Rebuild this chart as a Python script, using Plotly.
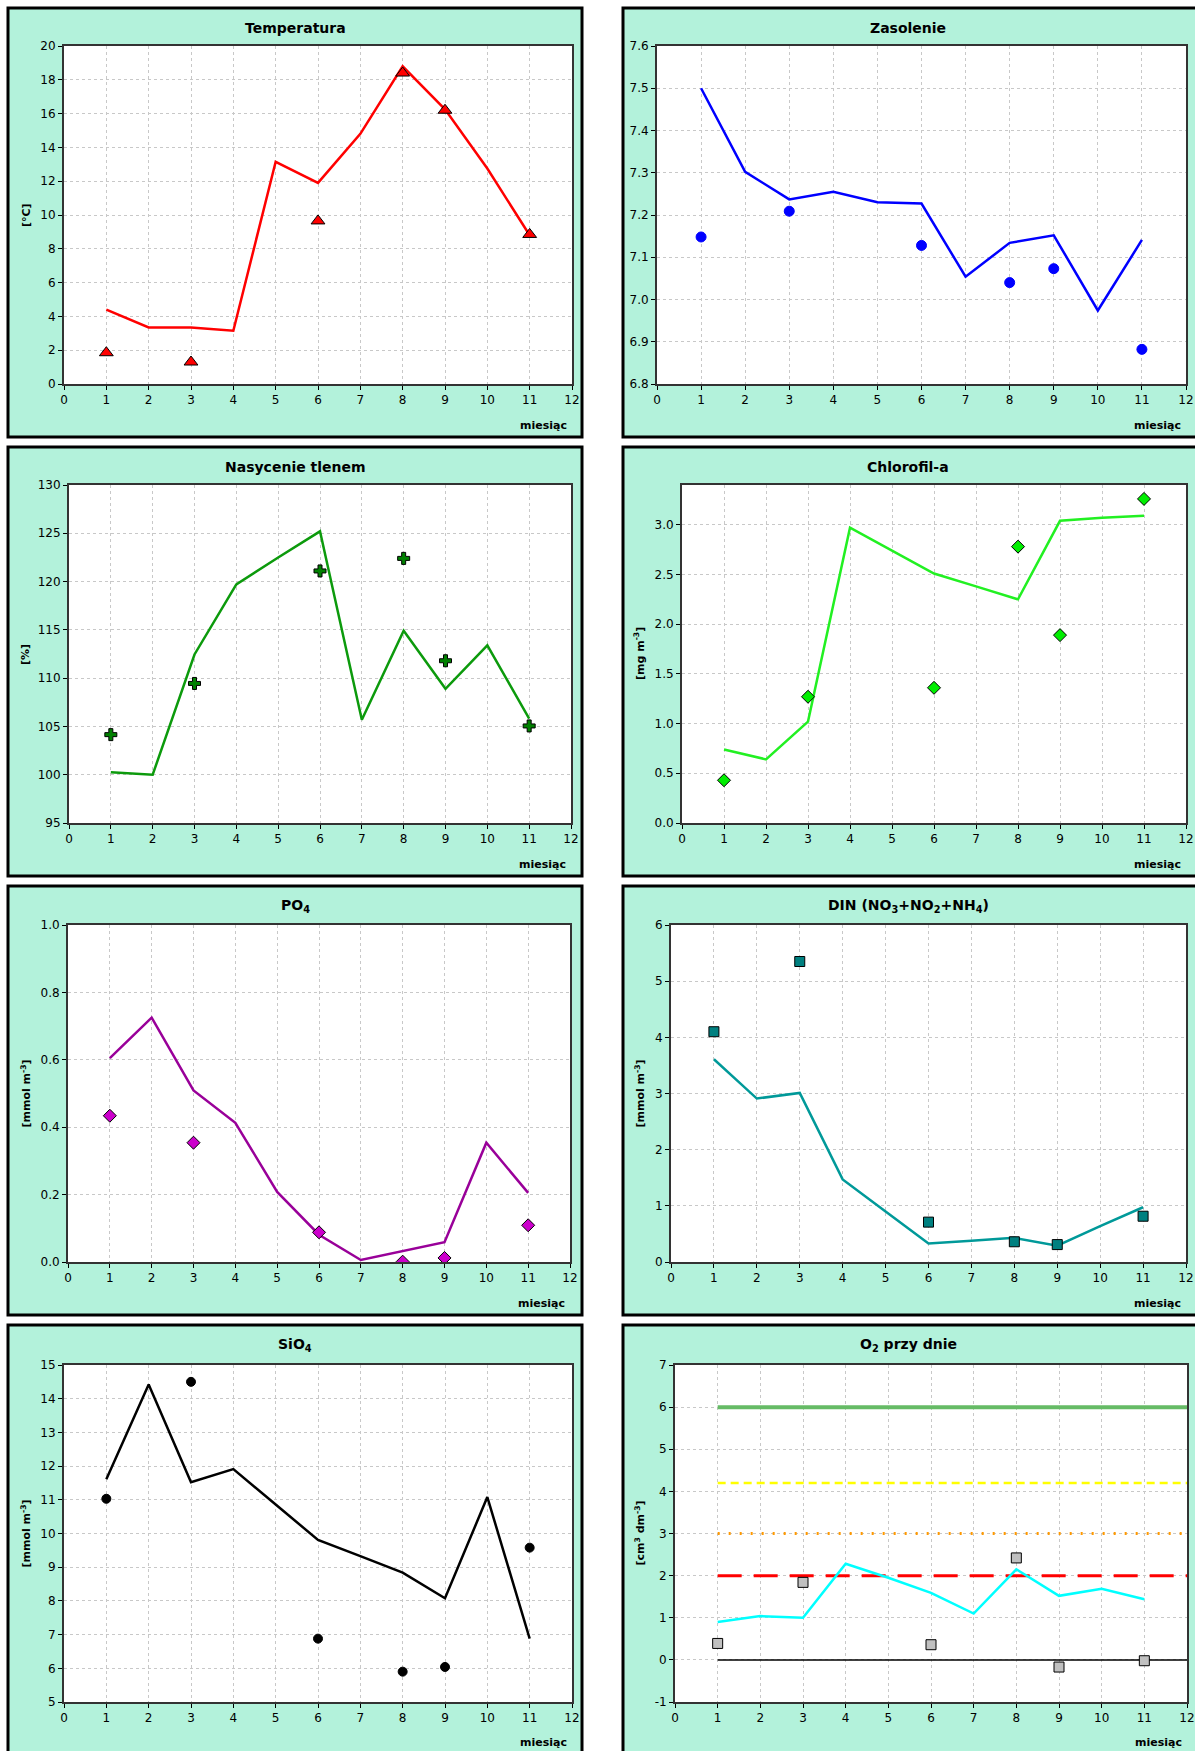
import plotly.graph_objects as go

W, H = 1195, 1751

# ---------------- data ----------------
months = [1, 2, 3, 4, 5, 6, 7, 8, 9, 10, 11]
meas_months = [1, 3, 6, 8, 9, 11]

temp_line = [4.4, 3.35, 3.35, 3.15, 13.15, 11.9, 14.8, 18.8, 16.25, 12.75, 8.8]
temp_pts = [1.85, 1.3, 9.65, 18.4, 16.2, 8.85]

sal_line = [7.50, 7.302, 7.237, 7.255, 7.230, 7.227, 7.054, 7.134, 7.152, 6.974, 7.141]
sal_pts = [7.148, 7.209, 7.128, 7.040, 7.073, 6.882]

oxsat_line = [100.25, 100.0, 112.45, 119.7, 122.5, 125.2, 105.7, 114.9, 108.9, 113.4, 105.8]
oxsat_pts = [104.15, 109.45, 121.1, 122.4, 111.8, 105.05]

chl_line = [0.74, 0.64, 1.02, 2.97, 2.74, 2.51, 2.38, 2.25, 3.04, 3.07, 3.09]
chl_pts = [0.43, 1.27, 1.36, 2.78, 1.89, 3.26]

po4_line = [0.605, 0.725, 0.509, 0.413, 0.208, 0.081, 0.006, 0.032, 0.059, 0.354, 0.205]
po4_pts = [0.434, 0.354, 0.088, 0.001, 0.012, 0.109]

din_line = [3.61, 2.91, 3.01, 1.47, 0.90, 0.33, 0.38, 0.43, 0.29, 0.64, 0.975]
din_pts = [4.10, 5.35, 0.71, 0.36, 0.31, 0.815]

sio4_line = [11.61, 14.42, 11.52, 11.91, 10.86, 9.81, 9.33, 8.84, 8.08, 11.08, 6.88]
sio4_pts = [11.03, 14.5, 6.88, 5.9, 6.04, 9.58]

o2_line = [0.9, 1.04, 1.0, 2.28, 1.95, 1.59, 1.10, 2.15, 1.52, 1.69, 1.44]
o2_pts = [0.39, 1.84, 0.36, 2.42, -0.17, -0.02]

ref_x = [1, 12]
ref_green = [6, 6]
ref_yellow = [4.2, 4.2]
ref_orange = [3, 3]
ref_red = [2, 2]
ref_black = [0, 0]

o2_tickvals = [-1, 0, 1, 2, 3, 4, 5, 6, 7]
o2_ticktext = ["-1", "0", "1", "2", "3", "4", "5", "6", "7"]

titles = ["Temperatura", "Zasolenie", "Nasycenie tlenem", "Chlorofil-a",
          "PO<sub>4</sub>", "DIN (NO<sub>3</sub>+NO<sub>2</sub>+NH<sub>4</sub>)",
          "SiO<sub>4</sub>", "O<sub>2</sub> przy dnie"]
ylabels = ["[°C]", "", "[%]", "[mg m<sup>-3</sup>]", "[mmol m<sup>-3</sup>]",
           "[mmol m<sup>-3</sup>]", "[mmol m<sup>-3</sup>]", "[cm<sup>3</sup> dm<sup>-3</sup>]"]
xlabel = "miesiąc"

# ---------------- layout geometry (pixels) ----------------
boxes = [
    (64, 46, 572, 384), (657, 46, 1186, 384),
    (69, 485, 571, 823), (682, 485, 1186, 823),
    (68, 925, 570, 1262), (671, 925, 1186, 1262),
    (64, 1365, 572, 1702), (675, 1365, 1187, 1702),
]
panel_rows = [(8, 437), (447, 876), (886, 1315), (1325, 1765)]
panel_cols = [(8, 582), (623, 1210)]

specs = [
    dict(line=temp_line, pts=temp_pts, lc="#FF0000", sym="triangle-up", mc="#FF0000", mlc="#000000", ms=12,
         yr=[0, 20], dt=2, fmt="d"),
    dict(line=sal_line, pts=sal_pts, lc="#0000FF", sym="circle", mc="#0000FF", mlc="#0000FF", ms=10,
         yr=[6.8, 7.6], dt=0.1, fmt=".1f"),
    dict(line=oxsat_line, pts=oxsat_pts, lc="#0C9A0C", sym="cross", mc="#008000", mlc="#000000", ms=10,
         yr=[95, 130], dt=5, fmt="d"),
    dict(line=chl_line, pts=chl_pts, lc="#22F022", sym="diamond", mc="#00EE00", mlc="#000000", ms=10,
         yr=[0, 3.4], dt=0.5, fmt=".1f"),
    dict(line=po4_line, pts=po4_pts, lc="#990099", sym="diamond", mc="#CC00CC", mlc="#000000", ms=10,
         yr=[0, 1.0], dt=0.2, fmt=".1f"),
    dict(line=din_line, pts=din_pts, lc="#009999", sym="square", mc="#008080", mlc="#000000", ms=10,
         yr=[0, 6], dt=1, fmt="d"),
    dict(line=sio4_line, pts=sio4_pts, lc="#000000", sym="circle", mc="#000000", mlc="#000000", ms=9,
         yr=[5, 15], dt=1, fmt="d"),
    dict(line=o2_line, pts=o2_pts, lc="#00FFFF", sym="square", mc="#C0C0C0", mlc="#000000", ms=10,
         yr=[-1, 7], dt=1, fmt="d"),
]

FONT = "DejaVu Sans"
fig = go.Figure()
shapes = []
annotations = []


def px_x(v):
    return v / W


def px_y(v):
    return 1 - v / H


for (t, b) in panel_rows:
    for (l, r) in panel_cols:
        shapes.append(dict(type="rect", xref="paper", yref="paper", x0=px_x(l), x1=px_x(r),
                           y0=px_y(b), y1=px_y(t), line=dict(color="black", width=3),
                           fillcolor="#B3F2DB", layer="below"))
for (l, t, r, b) in boxes:
    shapes.append(dict(type="rect", xref="paper", yref="paper", x0=px_x(l), x1=px_x(r),
                       y0=px_y(b), y1=px_y(t), line=dict(width=0),
                       fillcolor="white", layer="below"))

axis_common = dict(showline=True, linecolor="#333333", linewidth=2, mirror=True,
                   ticks="outside", ticklen=4, tickcolor="black", tickwidth=1,
                   showgrid=True, gridcolor="#C8C8C8", griddash="dot", gridwidth=1,
                   zeroline=False, automargin=False,
                   tickfont=dict(family=FONT, size=12, color="black"))

for i, (sp, box) in enumerate(zip(specs, boxes), start=1):
    l, t, r, b = box
    xname = "xaxis" if i == 1 else f"xaxis{i}"
    yname = "yaxis" if i == 1 else f"yaxis{i}"
    xref = "x" if i == 1 else f"x{i}"
    yref = "y" if i == 1 else f"y{i}"
    yax = dict(domain=[px_y(b), px_y(t)], anchor=xref, range=sp["yr"], dtick=sp["dt"],
               tick0=sp["yr"][0] if i != 4 else 0, tickformat=sp["fmt"], **axis_common)
    if i == 8:
        yax.update(tickmode="array", tickvals=o2_tickvals, ticktext=o2_ticktext)
    fig.update_layout(**{
        xname: dict(domain=[px_x(l), min(px_x(r), 1.0)], anchor=yref, range=[0, 12], dtick=1, tick0=0,
                    **axis_common),
        yname: yax,
    })

    if i == 8:
        fig.add_trace(go.Scatter(x=ref_x, y=ref_green, mode="lines", xaxis=xref, yaxis=yref,
                                 line=dict(color="#66BB66", width=4), showlegend=False))
        fig.add_trace(go.Scatter(x=ref_x, y=ref_yellow, mode="lines", xaxis=xref, yaxis=yref,
                                 line=dict(color="#FFFF00", width=2.5, dash="8px,5px"), showlegend=False))
        fig.add_trace(go.Scatter(x=ref_x, y=ref_orange, mode="lines", xaxis=xref, yaxis=yref,
                                 line=dict(color="#FF9900", width=3, dash="2px,9px"), showlegend=False))
        fig.add_trace(go.Scatter(x=ref_x, y=ref_red, mode="lines", xaxis=xref, yaxis=yref,
                                 line=dict(color="#FF0000", width=3, dash="24px,12px"), showlegend=False))
        fig.add_trace(go.Scatter(x=ref_x, y=ref_black, mode="lines", xaxis=xref, yaxis=yref,
                                 line=dict(color="#000000", width=1.5), showlegend=False))

    fig.add_trace(go.Scatter(x=months, y=sp["line"], mode="lines", xaxis=xref, yaxis=yref,
                             line=dict(color=sp["lc"], width=2.5), showlegend=False))
    fig.add_trace(go.Scatter(x=meas_months, y=sp["pts"], mode="markers", xaxis=xref, yaxis=yref,
                             marker=dict(symbol=sp["sym"], size=sp["ms"], color=sp["mc"],
                                         line=dict(color=sp["mlc"], width=1)),
                             showlegend=False))

    col = 0 if l < 600 else 1
    row = (i - 1) // 2
    pt = panel_rows[row][0]
    cx = 295 if col == 0 else 908
    annotations.append(dict(text=f"<b>{titles[i-1]}</b>", x=px_x(cx), y=px_y(pt + 20),
                            xref="paper", yref="paper", showarrow=False, xanchor="center",
                            yanchor="middle", font=dict(family=FONT, size=14, color="black")))
    annotations.append(dict(text=f"<b>{xlabel}</b>", x=px_x(r - 3), y=px_y(pt + 417),
                            xref="paper", yref="paper", showarrow=False, xanchor="right",
                            yanchor="middle", font=dict(family=FONT, size=11, color="black")))
    if ylabels[i - 1]:
        lx = 26 if col == 0 else 640
        annotations.append(dict(text=f"<b>{ylabels[i-1]}</b>", x=px_x(lx), y=px_y((t + b) / 2),
                                xref="paper", yref="paper", showarrow=False, textangle=-90,
                                xanchor="center", yanchor="middle",
                                font=dict(family=FONT, size=11, color="black")))

fig.update_layout(width=W, height=H, margin=dict(l=0, r=0, t=0, b=0, autoexpand=False),
                  paper_bgcolor="white", plot_bgcolor="white",
                  shapes=shapes, annotations=annotations,
                  font=dict(family=FONT, color="black"))

fig.write_html("out.html", config={"displayModeBar": False},
               post_script="document.body.style.margin='0';document.body.style.overflow='hidden';")
